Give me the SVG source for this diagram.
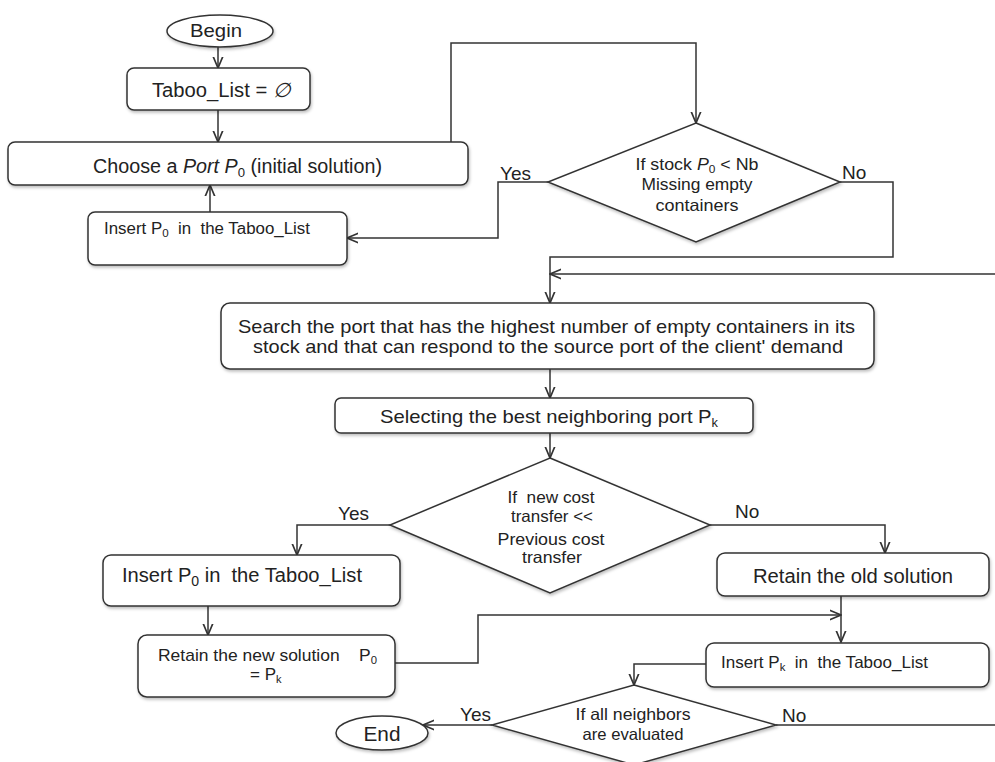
<svg xmlns="http://www.w3.org/2000/svg" width="995" height="762" viewBox="0 0 995 762">
<defs>
<marker id="arr" markerUnits="userSpaceOnUse" markerWidth="12" markerHeight="12" viewBox="0 0 10 10" refX="9.5" refY="5" orient="auto">
<path d="M0,1 L9.5,5 L0,9" fill="none" stroke="#333" stroke-width="1.4"/>
</marker>
<filter id="sh" x="-5%" y="-10%" width="110%" height="130%">
<feDropShadow dx="1" dy="2" stdDeviation="1.5" flood-color="#000" flood-opacity="0.25"/>
</filter>
</defs>
<style>
.n{fill:#fff;stroke:#333;stroke-width:1.5;filter:url(#sh)}
.t{font-family:"Liberation Sans",Arial,sans-serif;fill:#222;white-space:pre}
.c{text-anchor:middle}
.e{fill:none;stroke:#333;stroke-width:1.5;marker-end:url(#arr)}
.l{fill:none;stroke:#333;stroke-width:1.5}
</style>
<g id="connectors">
<path class="e" d="M218,47 V68"/>
<path class="e" d="M218,110 V142"/>
<path class="e" d="M210,212 V185"/>
<path class="e" d="M451,142 V43 H696 V123"/>
<path class="e" d="M548,182 H498 V238 H347"/>
<path class="e" d="M840,182 H893 V257 H550 V303"/>
<path class="e" d="M776,725 H1000 V274 H550"/>
<path class="e" d="M550,369 V398"/>
<path class="e" d="M550,433 V458"/>
<path class="e" d="M390,525 H297 V555"/>
<path class="e" d="M710,525 H885 V553"/>
<path class="e" d="M208,606 V635"/>
<path class="e" d="M395,663 H478 V615 H841"/>
<path class="e" d="M841,596 V642"/>
<path class="e" d="M706,664 H634 V685"/>
<path class="e" d="M492,725 H423"/>
<text class="t" x="500" y="180" font-size="19">Yes</text>
<text class="t" x="842" y="179" font-size="19">No</text>
<text class="t" x="338" y="520" font-size="19">Yes</text>
<text class="t" x="735" y="518" font-size="19">No</text>
<text class="t" x="460" y="721" font-size="19">Yes</text>
<text class="t" x="782" y="722" font-size="19">No</text>
</g>
<g id="begin">
<ellipse class="n" cx="220" cy="31" rx="53" ry="16"/>
<text class="t c" x="216" y="37" font-size="19" textLength="52" lengthAdjust="spacingAndGlyphs">Begin</text>
</g>
<g id="taboo-init">
<rect class="n" x="127" y="68" width="183" height="42" rx="7"/>
<text class="t" x="152" y="97" font-size="20" textLength="138" lengthAdjust="spacingAndGlyphs">Taboo_List = <tspan font-style="italic">∅</tspan></text>
</g>
<g id="choose">
<rect class="n" x="8" y="142" width="460" height="43" rx="7"/>
<text class="t" x="93" y="173" font-size="19.5" textLength="289" lengthAdjust="spacingAndGlyphs">Choose a <tspan font-style="italic">Port P</tspan><tspan font-size="13" dy="4">0</tspan><tspan dy="-4"> (initial solution)</tspan></text>
</g>
<g id="insert-p0-top">
<rect class="n" x="88" y="212" width="259" height="53" rx="7"/>
<text class="t" x="104" y="234" font-size="16" textLength="206" lengthAdjust="spacingAndGlyphs">Insert P<tspan font-size="11" dy="3">0</tspan><tspan dy="-3">  in  the Taboo_List</tspan></text>
</g>
<g id="decision-stock">
<polygon class="n" points="696,123 840,182 696,242 548,182"/>
<text class="t c" x="697" y="170" font-size="16.5" textLength="123" lengthAdjust="spacingAndGlyphs">If stock <tspan font-style="italic">P</tspan><tspan font-size="11" dy="3">0</tspan><tspan dy="-3"> &lt; Nb</tspan></text>
<text class="t c" x="697" y="190" font-size="16.5" textLength="111" lengthAdjust="spacingAndGlyphs">Missing empty</text>
<text class="t c" x="697" y="211" font-size="16.5" textLength="83" lengthAdjust="spacingAndGlyphs">containers</text>
</g>
<g id="search">
<rect class="n" x="221" y="303" width="653" height="66" rx="9"/>
<text class="t c" x="546.5" y="333" font-size="19" textLength="617" lengthAdjust="spacingAndGlyphs">Search the port that has the highest number of empty containers in its</text>
<text class="t c" x="548" y="353" font-size="19" textLength="590" lengthAdjust="spacingAndGlyphs">stock and that can respond to the source port of the client' demand</text>
</g>
<g id="select">
<rect class="n" x="335" y="398" width="418" height="35" rx="6"/>
<text class="t" x="380" y="423" font-size="19" textLength="338" lengthAdjust="spacingAndGlyphs">Selecting the best neighboring port P<tspan font-size="12" dy="4">k</tspan></text>
</g>
<g id="decision-cost">
<polygon class="n" points="550,458 710,525 550,593 390,525"/>
<text class="t c" x="551" y="503" font-size="16.5" textLength="87" lengthAdjust="spacingAndGlyphs">If  new cost</text>
<text class="t c" x="552" y="522" font-size="16.5" textLength="82" lengthAdjust="spacingAndGlyphs">transfer &lt;&lt;</text>
<text class="t c" x="551" y="545" font-size="16.5" textLength="107" lengthAdjust="spacingAndGlyphs">Previous cost</text>
<text class="t c" x="552" y="563" font-size="16.5" textLength="60" lengthAdjust="spacingAndGlyphs">transfer</text>
</g>
<g id="insert-p0">
<rect class="n" x="103" y="555" width="297" height="51" rx="8"/>
<text class="t" x="122" y="582" font-size="20" textLength="240" lengthAdjust="spacingAndGlyphs">Insert P<tspan font-size="14" dy="4">0</tspan><tspan dy="-4"> in  the Taboo_List</tspan></text>
</g>
<g id="retain-new">
<rect class="n" x="138" y="635" width="257" height="62" rx="9"/>
<text class="t" x="158" y="661" font-size="17" textLength="219" lengthAdjust="spacingAndGlyphs">Retain the new solution    P<tspan font-size="11" dy="3">0</tspan></text>
<text class="t" x="250" y="680" font-size="17">= P<tspan font-size="11" dy="3">k</tspan></text>
</g>
<g id="retain-old">
<rect class="n" x="717" y="553" width="272" height="43" rx="8"/>
<text class="t c" x="853" y="583" font-size="20" textLength="200" lengthAdjust="spacingAndGlyphs">Retain the old solution</text>
</g>
<g id="insert-pk">
<rect class="n" x="706" y="643" width="283" height="44" rx="8"/>
<text class="t" x="721" y="668" font-size="16.5" textLength="207" lengthAdjust="spacingAndGlyphs">Insert P<tspan font-size="11" dy="3">k</tspan><tspan dy="-3">  in  the Taboo_List</tspan></text>
</g>
<g id="decision-all">
<polygon class="n" points="634,685 776,725 634,765 492,725"/>
<text class="t c" x="633" y="720" font-size="16.5" textLength="115" lengthAdjust="spacingAndGlyphs">If all neighbors</text>
<text class="t c" x="633" y="740" font-size="16.5" textLength="101" lengthAdjust="spacingAndGlyphs">are evaluated</text>
</g>
<g id="end">
<ellipse class="n" cx="382" cy="733" rx="46" ry="17"/>
<text class="t c" x="382" y="741" font-size="20" textLength="37" lengthAdjust="spacingAndGlyphs">End</text>
</g>
</svg>
